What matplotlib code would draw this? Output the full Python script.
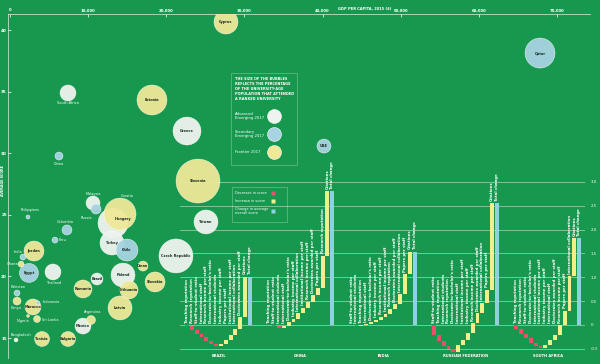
import numpy as np
import matplotlib.pyplot as plt
from matplotlib.patches import Rectangle
from matplotlib.lines import Line2D

# colours
GREEN = '#18984f'
C_ADV = '#eef3ef'
C_SEC = '#a7d3e2'
C_FRO = '#eee897'
RED = '#e8506e'
YEL = '#f1ee8e'
BLU = '#8fd0e2'
DARK = '#1e2d26'

# ---------------------------------------------------------------------------
# bubble chart: GDP per capita 2015 ($), average score, % of university-age
# population attending a ranked university, market group
# ---------------------------------------------------------------------------
countries = ['Slovenia', 'Czech Republic', 'Hungary', 'Croatia', 'Qatar', 'Estonia',
             'Greece', 'Cyprus', 'Taiwan', 'Turkey', 'Chile', 'Poland', 'Latvia',
             'Jordan', 'Slovakia', 'Egypt', 'Romania', 'Lithuania', 'South Africa',
             'Thailand', 'Morocco', 'Mexico', 'Tunisia', 'Bulgaria', 'UAE', 'Malaysia',
             'Brazil', 'Russia', 'Colombia', 'Oman', 'Argentina', 'China', 'Kenya',
             'Sri Lanka', 'Peru', 'India', 'Ghana', 'Pakistan', 'Philippines',
             'Indonesia', 'Bangladesh', 'Nigeria']
gdp = [24060, 21240, 13180, 14080, 67830, 18170,
       22650, 27640, 25080, 13050, 14970, 14460, 14080,
       3070, 18560, 2430, 9340, 15230, 7420,
       5500, 2940, 9340, 4100, 7420, 40180, 10620,
       11130, 11010, 7290, 17020, 10370, 6270, 900,
       3460, 5760, 1660, 1410, 900, 2300,
       3580, 770, 2300]
score = [27.74, 21.66, 24.33, 25.06, 38.13, 34.32,
         31.80, 40.65, 24.42, 22.71, 22.14, 20.11, 17.44,
         22.06, 19.55, 20.28, 18.98, 18.90, 34.89,
         20.36, 17.52, 15.97, 14.92, 14.92, 30.58, 25.96,
         19.79, 25.47, 23.77, 20.84, 16.46, 29.77, 18.00,
         16.54, 22.95, 21.57, 21.00, 18.65, 24.82,
         17.84, 14.84, 16.79]
share = [48.4, 28.9, 22.5, 25.6, 22.5, 22.5,
         19.6, 14.4, 14.4, 14.4, 12.1, 14.4, 14.4,
         10.0, 10.0, 9.0, 8.1, 8.1, 6.4,
         6.4, 6.4, 6.4, 5.6, 5.6, 4.9, 4.9,
         3.6, 2.5, 2.5, 2.5, 2.0, 1.6, 1.6,
         1.2, 0.9, 0.9, 0.9, 0.9, 0.4,
         0.4, 0.4, 0.2]
group = ['F', 'A', 'A', 'F', 'S', 'F',
         'A', 'F', 'A', 'A', 'S', 'A', 'F',
         'F', 'F', 'S', 'F', 'F', 'A',
         'A', 'F', 'A', 'F', 'F', 'S', 'A',
         'A', 'S', 'S', 'F', 'F', 'S', 'F',
         'F', 'S', 'S', 'F', 'S', 'S',
         'S', 'A', 'F']

# label offsets (pixels) for names written beside a bubble
label_off = {'South Africa': (0, -10), 'China': (0, -8), 'Malaysia': (0, 9),
             'Croatia': (7, 18), 'Russia': (-10, -9), 'Philippines': (2, 7),
             'Colombia': (-2, 8), 'Peru': (8, 0), 'India': (-5, 5), 'Ghana': (-9, 0),
             'Thailand': (1, -11), 'Pakistan': (1, 6), 'Kenya': (-1, -7),
             'Indonesia': (13, 1), 'Nigeria': (-5, -5), 'Sri Lanka': (13, -1),
             'Argentina': (2, 8), 'Bangladesh': (5, 5), 'Hungary': (10, 4)}

# ---------------------------------------------------------------------------
# waterfall: change in score by indicator
# ---------------------------------------------------------------------------
wf_names = ['BRAZIL', 'CHINA', 'INDIA', 'RUSSIAN FEDERATION', 'SOUTH AFRICA']
brazil_labels = ['Teaching reputation', 'Research reputation', 'Staff-to-student ratio',
                 'International staff', 'Research income per staff',
                 "Doctorate-to-bachelor's ratio", 'International students',
                 'Industry income per staff', 'Papers per staff',
                 'Institutional income per staff', 'International collaboration',
                 'Doctorates awarded per staff', 'Citations']
brazil_vals = [-0.03, -0.07, -0.08, -0.08, -0.07, -0.06, -0.04,
               0.04, 0.07, 0.10, 0.13, 0.25, 0.85]
china_labels = ['Teaching reputation', 'Staff-to-student ratio', 'International students',
                'International staff', "Doctorate-to-bachelor's ratio",
                'Industry income per staff', 'International collaboration',
                'Institutional income per staff', 'Research income per staff',
                'Doctorates awarded per staff', 'Papers per staff',
                'Research reputation', 'Citations']
china_vals = [-0.01, -0.02, -0.03, 0.04, 0.08, 0.07, 0.12, 0.11, 0.13, 0.14, 0.15,
              0.67, 1.35]
india_labels = ['Staff-to-student ratio', 'International students', 'Teaching reputation',
                'International staff', "Doctorate-to-bachelor's ratio",
                'Industry income per staff', 'Research income per staff',
                'Institutional income per staff', 'Research reputation',
                'Doctorates awarded per staff', 'International collaboration',
                'Papers per staff', 'Citations']
india_vals = [-0.01, -0.02, 0.02, 0.03, 0.04, 0.05, 0.06, 0.07, 0.10, 0.10, 0.20,
              0.42, 0.48]
russia_labels = ['Staff-to-student ratio', 'Teaching reputation', 'International students',
                 'Research reputation', "Doctorate-to-bachelor's ratio",
                 'International staff', 'Institutional income per staff',
                 'Industry income per staff', 'Research income per staff',
                 'Doctorates awarded per staff', 'International collaboration',
                 'Papers per staff', 'Citations']
russia_vals = [-0.20, -0.13, -0.10, -0.08, -0.05, 0.14, 0.11, 0.14, 0.21, 0.21, 0.21,
               0.28, 1.81]
safrica_labels = ['Teaching reputation', 'Research reputation', 'Staff-to-student ratio',
                  "Doctorate-to-bachelor's ratio", 'International students',
                  'Institutional income per staff', 'Industry income per staff',
                  'International staff', 'Doctorates awarded per staff',
                  'Research income per staff', 'Papers per staff',
                  'International collaboration', 'Citations']
safrica_vals = [-0.08, -0.10, -0.10, -0.10, -0.06, -0.05, 0.07, 0.11, 0.11, 0.20, 0.30,
                0.72, 0.80]
wf_labels = [brazil_labels, china_labels, india_labels, russia_labels, safrica_labels]
wf_vals = [brazil_vals, china_vals, india_vals, russia_vals, safrica_vals]

W, H = 600, 364
fig = plt.figure(figsize=(6, 3.64), dpi=100, facecolor=GREEN)


def fx(x):
    return x / W


def fy(y):
    return 1 - y / H


# ---- waterfall axes (below the bubbles)
axw = fig.add_axes([fx(180), fy(360), (585 - 180) / W, (360 - 178) / H], zorder=1)
axw.set_facecolor('none')
stride = 17
for g in range(len(wf_names)):
    vals = np.array(wf_vals[g])
    ends = np.cumsum(vals)
    starts = ends - vals
    x = g * stride + np.arange(len(vals))
    axw.bar(x, vals, bottom=starts, width=0.8,
            color=[RED if v < 0 else YEL for v in vals], zorder=3)
    xt = g * stride + len(vals)
    axw.bar(xt, ends[-1], width=0.8, color=BLU, zorder=3)
    for xi, s, e, lab in zip(x, starts, ends, wf_labels[g]):
        axw.text(xi, max(s, e, 0) + 0.05, lab, rotation=90, ha='center', va='bottom',
                 fontsize=2.8, fontweight='bold', color='white', zorder=4)
    axw.text(xt, ends[-1] + 0.05, 'Total change', rotation=90, ha='center',
             va='bottom', fontsize=2.8, fontweight='bold', color='white', zorder=4)
    axw.text(g * stride + 6.5, -0.64, wf_names[g], ha='center', va='center',
             fontsize=2.6, fontweight='bold', color='white')

axw.set_xlim(-1.45, 82.2)
axw.set_ylim(-0.734, 3.082)
axw.set_xticks([])
yt = np.arange(-0.5, 3.01, 0.5)
axw.set_yticks(yt)
axw.set_yticklabels(['0' if abs(v) < 1e-9 else f'{v:.1f}' for v in yt])
axw.yaxis.tick_right()
axw.tick_params(axis='y', length=0, labelsize=2.8, labelcolor='white', pad=4)
axw.yaxis.grid(True, color='white', lw=0.5, alpha=0.6, zorder=0)
for sp in axw.spines.values():
    sp.set_visible(False)

# ---- bubble axes
axb = fig.add_axes([fx(8), fy(358), 582 / W, 344 / H], zorder=2)
axb.set_facecolor('none')
cmap = {'A': C_ADV, 'S': C_SEC, 'F': C_FRO}
axb.scatter(gdp, score, s=[20.7 * v for v in share], c=[cmap[k] for k in group],
            edgecolors='white', linewidths=0.3, alpha=0.95, zorder=3)
for name, xv, yv in zip(countries, gdp, score):
    if name in label_off:
        dx, dy = label_off[name]
        col = DARK if name == 'Hungary' else 'white'
        wt = 'bold' if name == 'Hungary' else 'normal'
        axb.annotate(name, (xv, yv), xytext=(dx * 0.72, dy * 0.72),
                     textcoords='offset points', ha='center', va='center',
                     fontsize=2.5, color=col, fontweight=wt, zorder=5)
    else:
        axb.text(xv, yv, name, ha='center', va='center', fontsize=2.5,
                 color=DARK, fontweight='bold', zorder=5)

axb.set_xlim(-256, 74226)
axb.set_ylim(13.377, 41.30)
axb.xaxis.tick_top()
xt_ = np.arange(0, 70001, 10000)
axb.set_xticks(xt_)
axb.set_xticklabels(['0' if v == 0 else f'{v:,}' for v in xt_])
axb.set_yticks(np.arange(15, 41, 5))
axb.tick_params(axis='x', direction='in', length=2, width=0.5, color='white',
                labelsize=2.8, labelcolor='white', pad=1.2)
axb.tick_params(axis='y', direction='in', length=2, width=0.5, color='white',
                labelsize=3, labelcolor='white', pad=0.8)
for lbl in axb.get_xticklabels() + axb.get_yticklabels():
    lbl.set_fontweight('bold')
for side in ['right', 'bottom']:
    axb.spines[side].set_visible(False)
for side in ['top', 'left']:
    axb.spines[side].set_color('white')
    axb.spines[side].set_linewidth(0.6)
    axb.spines[side].set_alpha(0.7)

fig.text(fx(338), fy(9), 'GDP PER CAPITA, 2015 ($)', fontsize=2.6, fontweight='bold',
         color='white', ha='left', va='center')
fig.text(fx(3.5), fy(180), 'AVERAGE SCORE', fontsize=2.4, fontweight='bold',
         color='white', rotation=90, ha='center', va='center')

# ---- bubble legend
fig.add_artist(Rectangle((fx(231), fy(165)), 66 / W, 92 / H, transform=fig.transFigure,
                         fill=False, ec='white', lw=0.5, alpha=0.35))
fig.text(fx(235), fy(77),
         'THE SIZE OF THE BUBBLES\nREFLECTS THE PERCENTAGE\nOF THE UNIVERSITY-AGE\n'
         'POPULATION THAT ATTENDED\nA RANKED UNIVERSITY',
         fontsize=2.5, fontweight='bold', color='white', ha='left', va='top',
         linespacing=1.35)
for txt, col, yy in [('Advanced\nEmerging 2017', C_ADV, 116),
                     ('Secondary\nEmerging 2017', C_SEC, 134),
                     ('Frontier 2017', C_FRO, 152)]:
    fig.text(fx(235), fy(yy), txt, fontsize=2.7, color='white', ha='left', va='center',
             linespacing=1.3)
    fig.add_artist(Line2D([fx(274)], [fy(yy)], marker='o', ms=10, mfc=col, mec='white',
                          mew=0.4, transform=fig.transFigure))

# ---- waterfall legend
fig.add_artist(Rectangle((fx(232), fy(222)), 55 / W, 35 / H, transform=fig.transFigure,
                         fill=False, ec='white', lw=0.5, alpha=0.35))
for txt, col, mk, yy in [('Decrease in score', RED, 'o', 193),
                         ('Increase in score', YEL, 's', 201),
                         ('Change in average\noverall score', BLU, 's', 211)]:
    fig.text(fx(235), fy(yy), txt, fontsize=2.5, color='white', ha='left', va='center',
             linespacing=1.2)
    fig.add_artist(Line2D([fx(273)], [fy(yy)], marker=mk, ms=3.2, mfc=col, mec='none',
                          transform=fig.transFigure))

plt.savefig('out.png', dpi=100, facecolor=GREEN)
